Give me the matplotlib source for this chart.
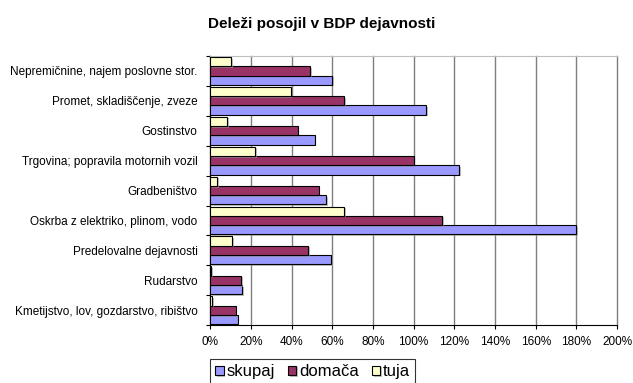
import numpy as np
import matplotlib.pyplot as plt
import matplotlib.patheffects as pe

# Data (top to bottom as in the chart)
categories = ['Nepremičnine, najem poslovne stor.',
              'Promet, skladiščenje, zveze',
              'Gostinstvo',
              'Trgovina; popravila motornih vozil',
              'Gradbeništvo',
              'Oskrba z elektriko, plinom, vodo',
              'Predelovalne dejavnosti',
              'Rudarstvo',
              'Kmetijstvo, lov, gozdarstvo, ribištvo']
skupaj = [59.8, 106.0, 51.3, 122.4, 57.0, 179.7, 59.5, 15.7, 13.6]
domaca = [49.0, 66.0, 43.0, 100.0, 53.4, 114.0, 48.3, 15.2, 12.6]
tuja = [10.3, 39.5, 8.2, 22.0, 3.3, 65.8, 10.8, 0.5, 1.0]
x_ticks = [0, 20, 40, 60, 80, 100, 120, 140, 160, 180, 200]

plt.rcParams['font.family'] = ['Liberation Sans', 'DejaVu Sans']
fs = 8.5

fig = plt.figure(figsize=(6.33, 3.83), dpi=100)
ax = fig.add_axes([0.332, 0.151, 0.643, 0.703])

n = len(categories)
y = np.arange(n)[::-1]  # first category on top
h = 0.31
shadow = [pe.SimplePatchShadow(offset=(1.2, -1.2), shadow_rgbFace='#999999', alpha=0.6), pe.Normal()]

series = [(skupaj, 'skupaj', '#9999ff', -h),
          (domaca, 'domača', '#993366', 0),
          (tuja, 'tuja', '#ffffcc', h)]
for vals, lab, col, off in series:
    bars = ax.barh(y + off, vals, height=h, color=col, edgecolor='black',
                   linewidth=0.8, label=lab, zorder=3)
    for b in bars:
        b.set_path_effects(shadow)

ax.set_xlim(0, 200)
ax.set_ylim(-0.5, n - 0.5)
ax.set_xticks(x_ticks)
ax.set_xticklabels([f'{t}%' for t in x_ticks], fontsize=fs)
ax.set_yticks(y)
ax.set_yticklabels(categories, fontsize=fs)
ax.tick_params(axis='y', which='major', length=0, pad=9)
ax.set_yticks(np.arange(n + 1) - 0.5, minor=True)
ax.tick_params(axis='y', which='minor', length=3, direction='out', width=0.8)
ax.tick_params(axis='x', length=3, width=0.8, direction='out', pad=5)

ax.grid(axis='x', color='#7f7f7f', linewidth=1.0, zorder=0)
for gl in ax.get_xgridlines():
    gl.set_clip_on(False)
ax.spines['top'].set_color('#bfbfbf')
ax.spines['right'].set_visible(False)
ax.spines['left'].set_linewidth(0.8)
ax.spines['bottom'].set_linewidth(0.8)
ax.set_axisbelow(True)

fig.text(0.508, 0.938, 'Deleži posojil v BDP dejavnosti', ha='center',
         va='center', fontsize=11, fontweight='bold')

# legend is larger than the tick labels and runs off the bottom edge
leg = fig.legend(loc='upper center', bbox_to_anchor=(0.494, 0.062), ncol=3,
                 fontsize=12, frameon=True, fancybox=False, edgecolor='black',
                 handlelength=0.5, handleheight=0.5, handletextpad=0.15,
                 columnspacing=0.8, borderpad=0.3, borderaxespad=0)
leg.get_frame().set_linewidth(0.8)

fig.savefig('out.png', dpi=100)
